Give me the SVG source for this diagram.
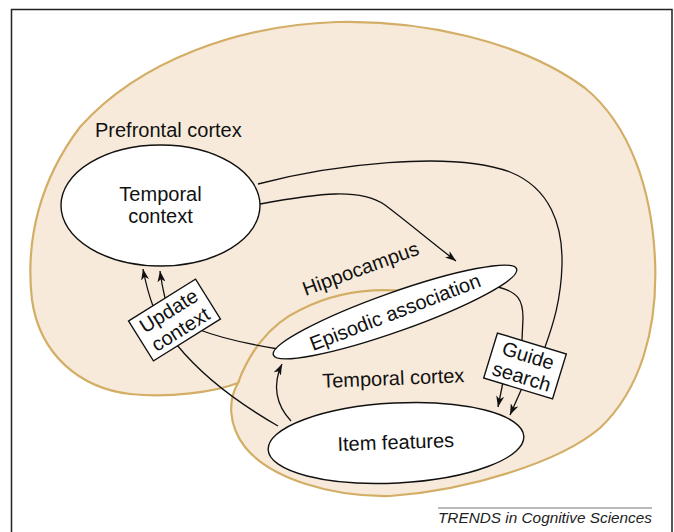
<svg xmlns="http://www.w3.org/2000/svg" width="674" height="532" viewBox="0 0 674 532">
<style>
.region{fill:#f8eada;stroke:#d3ae66;stroke-width:2.2}
.lobe{fill:none;stroke:#d3ae66;stroke-width:2.2}
.node{fill:#fff;stroke:#111;stroke-width:1.4}
.edge{fill:none;stroke:#111;stroke-width:1.3}
text{font-family:"Liberation Sans",Arial,sans-serif;font-size:20px;fill:#111}
.mid{text-anchor:middle}
.credit{font-size:15.5px;font-style:italic;fill:#222}
</style>
<defs>
<marker id="arrow" markerUnits="userSpaceOnUse" markerWidth="12" markerHeight="8" refX="11" refY="4" orient="auto">
<path d="M0,0 L11,4 L0,8 L3,4 Z" fill="#111"/>
</marker>
</defs>
<rect width="674" height="532" fill="#fff"/>
<path d="M11.5,540 V9.5 H672 V540" fill="none" stroke="#222" stroke-width="1.5"/>
<g id="regions">
<path class="region" d="M337,22 C420,20 520,40 585,88 C630,125 652,190 655,260 C658,330 640,390 600,428 C560,462 470,490 390,496 C330,497 270,478 245,447 C228,425 228,400 238,383 C215,392 170,398 130,394 C80,388 40,355 32,300 C25,240 40,180 80,127 C140,60 240,25 337,22 Z"/>
<path class="lobe" d="M238,383 C248,355 268,325 300,310 C325,297 360,287 405,291"/>
<text x="95" y="137">Prefrontal cortex</text>
<text class="mid" transform="translate(363,275) rotate(-20)">Hippocampus</text>
<text class="mid" transform="translate(393.5,385) rotate(-2.3)">Temporal cortex</text>
</g>
<g id="connectors">
<path class="edge" d="M258,184 C330,165 450,150 510,172 C550,188 563,225 562,265 C561,300 553,325 545,347"/>
<path class="edge" marker-end="url(#arrow)" d="M260,204 C320,193 360,188 385,205 C405,220 435,245 456,261"/>
<path class="edge" marker-end="url(#arrow)" d="M153,306 Q147,290 143,269"/>
<path class="edge" marker-end="url(#arrow)" d="M165,298 Q162,286 160,271"/>
<path class="edge" d="M200,330 Q227,340.5 278,349"/>
<path class="edge" d="M177,345 Q212,388 278,426"/>
<path class="edge" marker-end="url(#arrow)" d="M291,421 C276,405 272,385 282,364"/>
<path class="edge" d="M498,287 C518,292 523,300 523,318 L522,340"/>
<path class="edge" marker-end="url(#arrow)" d="M503,382 L498,407"/>
<path class="edge" marker-end="url(#arrow)" d="M522,388 L510,415"/>
</g>
<g id="temporal-context">
<ellipse class="node" cx="160.5" cy="205.5" rx="99.5" ry="60.5"/>
<text class="mid" x="160.5" y="201">Temporal</text>
<text class="mid" x="160.5" y="223">context</text>
</g>
<g id="episodic-association">
<ellipse class="node" cx="395" cy="312" rx="129" ry="19.5" transform="rotate(-19.5 395 312)"/>
<text class="mid" transform="translate(395,312) rotate(-21)" y="7">Episodic association</text>
</g>
<g id="item-features">
<ellipse class="node" cx="396" cy="443" rx="128" ry="40" transform="rotate(-3 396 443)"/>
<text class="mid" transform="translate(396,449) rotate(-2)">Item features</text>
</g>
<g id="update-context" transform="translate(174.5,320) rotate(-32)">
<rect class="node" x="-39.5" y="-23.5" width="79" height="47"/>
<text class="mid" y="-4">Update</text>
<text class="mid" y="18">context</text>
</g>
<g id="guide-search" transform="translate(525,366) rotate(17)">
<rect class="node" x="-36" y="-23.5" width="72" height="47"/>
<text class="mid" y="-4">Guide</text>
<text class="mid" y="18">search</text>
</g>
<g id="credit">
<line x1="438" y1="508" x2="652" y2="508" stroke="#777" stroke-width="1.2"/>
<text class="credit" x="438" y="523" textLength="214" lengthAdjust="spacingAndGlyphs">TRENDS in Cognitive Sciences</text>
</g>
</svg>
